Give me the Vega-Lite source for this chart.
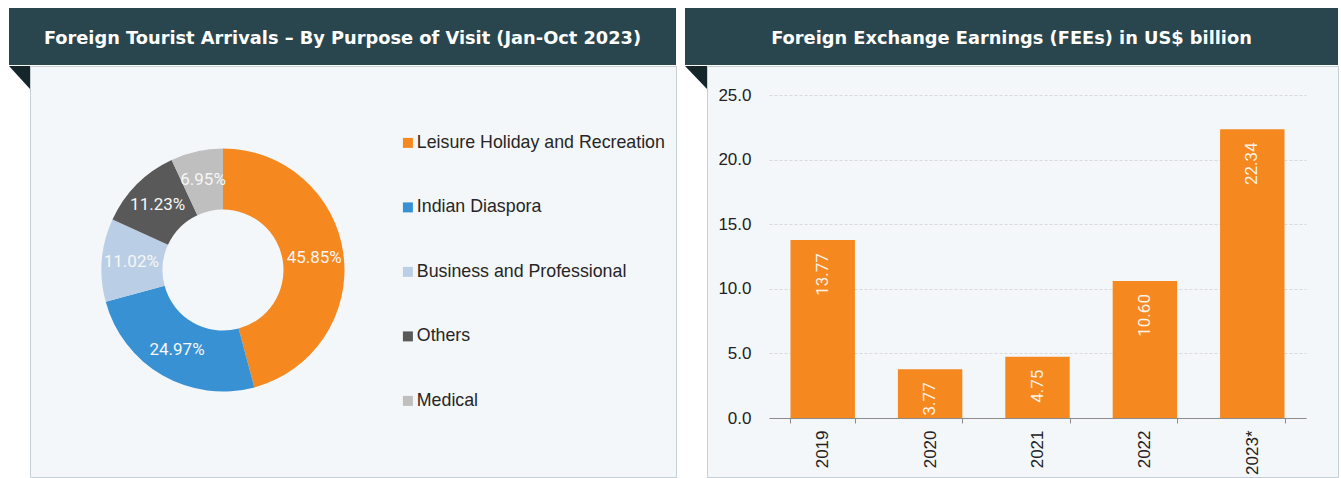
{
  "$schema": "https://vega.github.io/schema/vega-lite/v6.json",
  "background": "#ffffff",
  "padding": {"left": 9, "top": 8, "right": 0, "bottom": 0},
  "autosize": {"type": "pad"},
  "config": {"view": {"stroke": null}},
  "spacing": 8,
  "hconcat": [
    {
      "spacing": 0,
      "vconcat": [
        {
          "width": 667,
          "height": 57,
          "view": {"fill": "#29464f", "stroke": null},
          "data": {"values": [{"title": "Foreign Tourist Arrivals – By Purpose of Visit (Jan-Oct 2023)"}]},
          "mark": {"type": "text", "font": "DejaVu Sans", "fontWeight": "bold", "fontSize": 17.8, "color": "#ffffff", "align": "center", "baseline": "middle", "dy": 2},
          "encoding": {"text": {"field": "title"}}
        },
        {
          "spacing": 0,
          "bounds": "flush",
          "hconcat": [
            {
              "width": 21,
              "height": 23,
              "view": {"fill": null, "stroke": null},
              "data": {"values": [{"fold": "left"}]},
              "mark": {"type": "point", "shape": "M -1 -1.1 L 1 -1.1 L 1 1.1 Z", "size": 441, "filled": true, "color": "#14262b", "opacity": 1, "strokeWidth": 0},
              "encoding": {}
            },
            {
              "width": 646,
              "height": 411,
              "view": {"fill": "#f4f7f9", "stroke": "#c5cfd4"},
              "data": {
                "values": [
                  {"purpose": "Leisure Holiday and Recreation", "share": 0.4585, "idx": 1},
                  {"purpose": "Indian Diaspora", "share": 0.2497, "idx": 2},
                  {"purpose": "Business and Professional", "share": 0.1102, "idx": 3},
                  {"purpose": "Others", "share": 0.1123, "idx": 4},
                  {"purpose": "Medical", "share": 0.0695, "idx": 5}
                ]
              },
              "encoding": {
                "theta": {"field": "share", "type": "quantitative", "stack": true},
                "order": {"field": "idx", "type": "quantitative"}
              },
              "layer": [
                {
                  "mark": {"type": "arc", "outerRadius": 121.5, "innerRadius": 60.5, "xOffset": -130, "yOffset": -1.5},
                  "encoding": {
                    "color": {
                      "field": "purpose",
                      "type": "nominal",
                      "sort": null,
                      "scale": {
                        "domain": ["Leisure Holiday and Recreation", "Indian Diaspora", "Business and Professional", "Others", "Medical"],
                        "range": ["#f5881f", "#3891d3", "#bacfe5", "#595959", "#bfbfbf"]
                      },
                      "legend": {
                        "orient": "none",
                        "legendX": 390,
                        "legendY": 126,
                        "title": null,
                        "symbolType": "square",
                        "symbolSize": 100,
                        "symbolStrokeWidth": 0,
                        "labelFont": "Liberation Sans",
                        "labelFontSize": 17.8,
                        "labelColor": "#262626",
                        "labelLimit": 400,
                        "labelOffset": 0,
                        "rowPadding": 45.5
                      }
                    }
                  }
                },
                {
                  "mark": {"type": "text", "radius": 92, "xOffset": -130, "yOffset": -1.5, "font": "Roboto", "fontSize": 17, "color": "#f6f6f6", "align": "center", "baseline": "middle"},
                  "encoding": {
                    "text": {"field": "share", "type": "quantitative", "format": ".2%"},
                    "detail": {"field": "purpose", "type": "nominal"}
                  }
                }
              ]
            }
          ]
        }
      ]
    },
    {
      "spacing": 0,
      "vconcat": [
        {
          "width": 653,
          "height": 57,
          "view": {"fill": "#29464f", "stroke": null},
          "data": {"values": [{"title": "Foreign Exchange Earnings (FEEs) in US$ billion"}]},
          "mark": {"type": "text", "font": "DejaVu Sans", "fontWeight": "bold", "fontSize": 17.8, "color": "#ffffff", "align": "center", "baseline": "middle", "dy": 2},
          "encoding": {"text": {"field": "title"}}
        },
        {
          "spacing": 0,
          "bounds": "flush",
          "hconcat": [
            {
              "width": 22,
              "height": 23,
              "view": {"fill": null, "stroke": null},
              "data": {"values": [{"fold": "right"}]},
              "mark": {"type": "point", "shape": "M -1 -1.05 L 1 -1.05 L 1 1.05 Z", "size": 484, "filled": true, "color": "#14262b", "opacity": 1, "strokeWidth": 0},
              "encoding": {}
            },
            {
              "width": 631,
              "height": 411,
              "view": {"fill": "#f4f7f9", "stroke": "#c5cfd4"},
              "data": {
                "values": [
                  {"year": "2019", "fee": 13.77},
                  {"year": "2020", "fee": 3.77},
                  {"year": "2021", "fee": 4.75},
                  {"year": "2022", "fee": 10.60},
                  {"year": "2023*", "fee": 22.34}
                ]
              },
              "encoding": {
                "x": {
                  "field": "year",
                  "type": "nominal",
                  "sort": null,
                  "scale": {"range": [62, 599], "paddingInner": 0.4, "paddingOuter": 0.2},
                  "axis": {
                    "title": null,
                    "orient": "bottom",
                    "offset": -59,
                    "tickBand": "extent",
                    "domainColor": "#8c8c8c",
                    "tickColor": "#8c8c8c",
                    "tickSize": 5,
                    "labelAngle": 270,
                    "labelAlign": "right",
                    "labelBaseline": "middle",
                    "labelPadding": 7,
                    "labelFont": "Liberation Sans",
                    "labelFontSize": 17,
                    "labelColor": "#222222",
                    "grid": false
                  }
                },
                "y": {
                  "field": "fee",
                  "type": "quantitative",
                  "scale": {"domain": [0, 25], "range": [352, 29], "nice": false, "zero": true},
                  "axis": {
                    "title": null,
                    "values": [0, 5, 10, 15, 20, 25],
                    "format": ".1f",
                    "offset": -62,
                    "domain": false,
                    "ticks": false,
                    "tickSize": 0,
                    "labelPadding": 18,
                    "labelFont": "Liberation Sans",
                    "labelFontSize": 17,
                    "labelColor": "#222222",
                    "grid": true,
                    "gridColor": "#d9d9d9",
                    "gridDash": [3, 2]
                  }
                }
              },
              "layer": [
                {"mark": {"type": "bar", "color": "#f5881f"}},
                {
                  "mark": {"type": "text", "angle": 270, "align": "right", "baseline": "middle", "dx": -13, "font": "Roboto", "fontSize": 17, "color": "#fdf2e6"},
                  "encoding": {"text": {"field": "fee", "type": "quantitative", "format": ".2f"}}
                }
              ]
            }
          ]
        }
      ]
    }
  ]
}
